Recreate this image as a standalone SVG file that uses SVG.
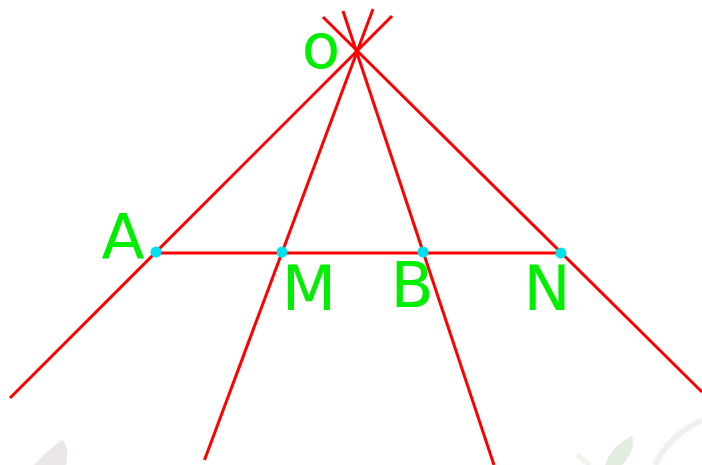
<svg xmlns="http://www.w3.org/2000/svg" width="702" height="465" viewBox="0 0 702 465">
<style>
.ln{stroke:#ff0000;stroke-width:3;fill:none}
.pt{fill:#00e1f0}
.lb{font-family:"DejaVu Sans","Verdana",sans-serif;font-size:63px;fill:#00ee00;text-anchor:middle}
.wm{stroke:none}
</style>
<rect width="702" height="465" fill="#ffffff"/>
<g id="watermark" opacity="0.5">
<path class="wm" d="M34,465 Q50,448 62,440 Q70,446 66,465 Z" fill="#d8d0d4"/>
<path class="wm" d="M605,465 Q612,445 632,436 Q636,450 622,465 Z" fill="#c8dcc0"/>
<path d="M655,465 Q670,435 702,420" stroke="#dde6dd" stroke-width="6" fill="none"/>
<path d="M577,455 L590,465" stroke="#dfe8da" stroke-width="5" fill="none"/>
</g>
<g id="connectors">
<line class="ln" x1="392" y1="16" x2="10" y2="398"/>
<line class="ln" x1="373" y1="9" x2="204.5" y2="460"/>
<line class="ln" x1="343" y1="11" x2="494" y2="465"/>
<line class="ln" x1="323" y1="17" x2="702" y2="392"/>
<line class="ln" x1="156" y1="253" x2="561" y2="253"/>
</g>
<g id="O"><text class="lb" x="321" y="68">o</text></g>
<g id="A"><circle class="pt" cx="156" cy="252" r="5.5"/><text class="lb" x="123" y="259">A</text></g>
<g id="M"><circle class="pt" cx="282" cy="252" r="5.5"/><text class="lb" x="309" y="310">M</text></g>
<g id="B"><circle class="pt" cx="423" cy="252" r="5.5"/><text class="lb" x="412" y="307">B</text></g>
<g id="N"><circle class="pt" cx="561" cy="253" r="5.5"/><text class="lb" x="547" y="310">N</text></g>
</svg>
